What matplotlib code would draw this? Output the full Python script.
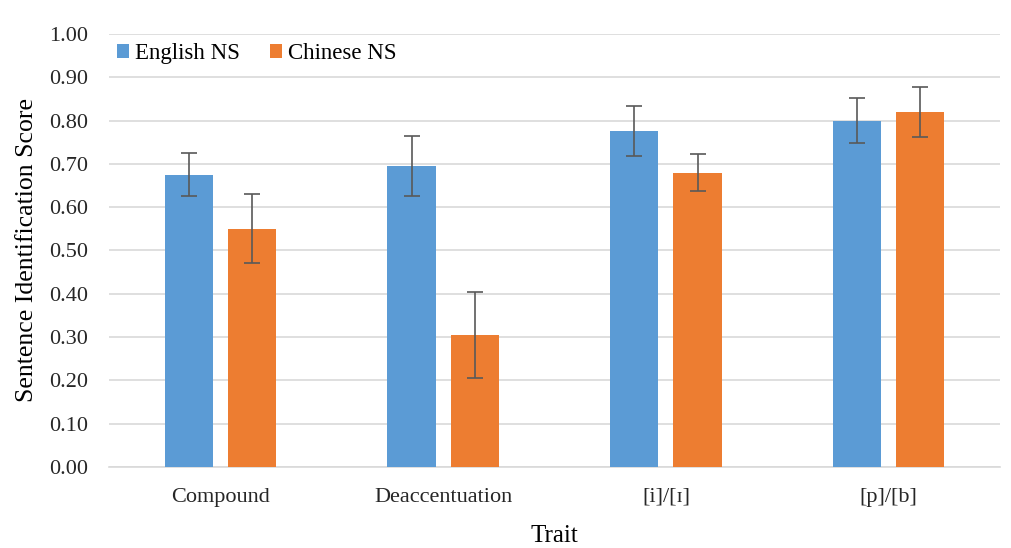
import numpy as np
import matplotlib
matplotlib.use("Agg")
import matplotlib.pyplot as plt

# Data
traits = ["Compound", "Deaccentuation", "[i]/[ɪ]", "[p]/[b]"]
english_ns = [0.675, 0.695, 0.775, 0.80]
chinese_ns = [0.55, 0.305, 0.68, 0.82]
english_err = [0.05, 0.07, 0.058, 0.052]
chinese_err = [0.08, 0.10, 0.043, 0.057]

plt.rcParams['font.family'] = ['Liberation Serif', 'DejaVu Serif']

fig = plt.figure(figsize=(10.12, 5.48), dpi=100)
ax = fig.add_axes([0.108, 0.148, 0.880, 0.79])

x = np.arange(len(traits))
w = 0.217
off = 0.142
err_kw = dict(ecolor='#595959', elinewidth=1.2, capsize=6, capthick=1.2)
ax.bar(x - off, english_ns, w, yerr=english_err, color='#5B9BD5',
       label='English NS', error_kw=err_kw, zorder=3)
ax.bar(x + off, chinese_ns, w, yerr=chinese_err, color='#ED7D31',
       label='Chinese NS', error_kw=err_kw, zorder=3)

ax.set_xlim(-0.5, len(traits) - 0.5)
ax.set_ylim(0, 1.0)
ax.set_yticks(np.arange(0, 1.01, 0.1))
ax.set_yticklabels([f"{v:.2f}" for v in np.arange(0, 1.01, 0.1)])
ax.set_xticks(x)
ax.set_xticklabels(traits)
ax.tick_params(axis='both', length=0, labelsize=16, colors='#262626')
ax.tick_params(axis='x', pad=15)
ax.tick_params(axis='y', pad=15)

ax.grid(axis='y', color='#d9d9d9', linewidth=1.2, zorder=0)
for s in ['top', 'right', 'left']:
    ax.spines[s].set_visible(False)
ax.spines['bottom'].set_color('#d9d9d9')
ax.spines['bottom'].set_linewidth(1.2)

ax.set_xlabel('Trait', fontsize=18, labelpad=13)
ax.set_ylabel('Sentence Identification Score', fontsize=18.5, labelpad=8)

ax.legend(loc='upper left', bbox_to_anchor=(-0.007, 1.01), ncol=2, frameon=False,
          fontsize=16.5, handlelength=0.55, handleheight=0.55, handletextpad=0.25,
          columnspacing=1.3, borderaxespad=0.2)

fig.savefig('out.png', dpi=100)
